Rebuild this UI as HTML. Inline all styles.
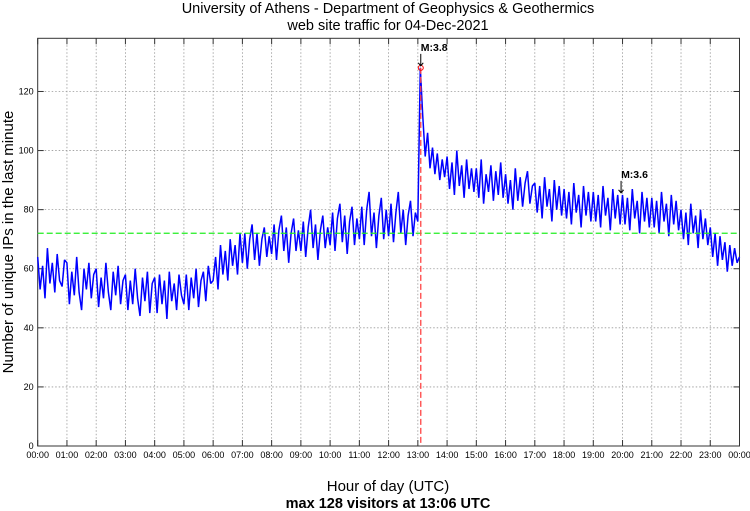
<!DOCTYPE html>
<html><head><meta charset="utf-8"><style>
body{margin:0;background:#fff;}
svg{display:block;font-family:"Liberation Sans",sans-serif;}
</style></head><body>
<svg id="chart" width="750" height="511" viewBox="0 0 750 511">
<text x="388" y="13" font-size="14.5" text-anchor="middle">University of Athens - Department of Geophysics &amp; Geothermics</text>
<text x="388" y="30" font-size="14.5" text-anchor="middle">web site traffic for 04-Dec-2021</text>
<text x="388" y="491" font-size="15" text-anchor="middle">Hour of day (UTC)</text>
<text x="388" y="508" font-size="14.5" font-weight="bold" text-anchor="middle">max 128 visitors at 13:06 UTC</text>
<text transform="translate(13,242) rotate(-90)" font-size="15" text-anchor="middle">Number of unique IPs in the last minute</text>
<g id="grid"></g><g id="series"></g><g id="overlay"></g>
</svg>
<script>
const yTicks=[0,20,40,60,80,100,120];
const xTickLabels=["00:00","01:00","02:00","03:00","04:00","05:00","06:00","07:00","08:00","09:00","10:00","11:00","12:00","13:00","14:00","15:00","16:00","17:00","18:00","19:00","20:00","21:00","22:00","23:00","00:00"];
const averageValue=72;
const peakTime=13.1, peakValue=128;
const quakes=[{label:"M:3.8",t:13.1,v:128},{label:"M:3.6",t:19.95,v:85}];
const visitors=[
64,53,61,50,67,55,62,52,65,56,54,63,
62,48,59,51,64,52,46,60,53,62,50,58,
60,47,57,50,62,52,46,59,51,61,48,56,
58,46,56,48,60,50,44,57,49,59,45,55,
57,45,58,48,56,43,59,49,55,46,58,51,
48,58,46,57,50,60,47,56,59,49,61,55,
56,64,53,68,58,66,56,70,61,68,58,72,
62,72,60,70,75,63,72,61,70,74,64,71,
65,75,63,73,78,66,74,62,72,77,66,73,
66,76,64,74,80,67,75,63,73,78,67,74,
68,79,66,77,82,69,78,65,76,81,68,77,
70,81,68,80,86,71,79,67,78,84,70,80,
71,82,69,79,86,72,80,68,78,83,71,79,
76,128,112,98,106,94,101,92,99,90,97,91,
98,87,96,85,100,88,95,84,97,87,94,86,
94,84,97,82,92,86,95,83,93,85,96,84,
92,82,90,80,94,83,91,81,89,93,82,88,
89,79,88,77,91,81,87,76,90,80,88,78,
87,77,86,75,89,79,85,74,88,78,86,76,
86,76,85,74,88,78,84,73,87,77,85,75,
85,75,84,73,87,77,83,72,86,76,84,74,
84,74,83,72,86,76,82,71,85,75,83,73,
80,70,79,68,82,72,78,67,80,70,77,68,
74,64,72,61,71,63,69,59,68,61,67,62,64];
const NS="http://www.w3.org/2000/svg";
const L=37.7,R=739.5,T=38.3,B=446,YMAX=138;
const xs=h=>L+(R-L)*h/24;
const ys=v=>B-(B-T)*v/YMAX;
function mk(tag,attrs,parent){const e=document.createElementNS(NS,tag);for(const k in attrs)e.setAttribute(k,attrs[k]);parent.appendChild(e);return e;}
const grid=document.getElementById('grid'),ser=document.getElementById('series'),ov=document.getElementById('overlay');
yTicks.forEach(v=>{
  const y=ys(v);
  if(v>0){const g=mk('line',{x1:L,x2:R,y1:y,y2:y,stroke:'#999','stroke-width':0.8,'stroke-dasharray':'1.5,2'},grid);
  
  }
  mk('line',{x1:L,x2:L+6,y1:y,y2:y,stroke:'#333'},grid);
  mk('line',{x1:R,x2:R-6,y1:y,y2:y,stroke:'#333'},grid);
  const t=mk('text',{x:L-4,y:y+3,'font-size':9,'text-anchor':'end'},grid);t.textContent=v;
  
  
});
xTickLabels.forEach((lab,i)=>{
  const x=xs(i);
  if(i>0&&i<24){const g=mk('line',{x1:x,x2:x,y1:T,y2:B,stroke:'#999','stroke-width':0.8,'stroke-dasharray':'1.5,2'},grid);
  
  }
  mk('line',{x1:x,x2:x,y1:B,y2:B-6,stroke:'#333'},grid);
  mk('line',{x1:x,x2:x,y1:T,y2:T+6,stroke:'#333'},grid);
  const t=mk('text',{x:x,y:B+12,'font-size':9,'text-anchor':'middle'},grid);t.textContent=lab;
  
  
});
const frame=mk('rect',{x:L,y:T,width:R-L,height:B-T,fill:'none',stroke:'#333','stroke-width':1},grid);


const n=visitors.length-1;
const pts=visitors.map((v,i)=>xs(i*24/n).toFixed(1)+','+ys(v).toFixed(1)).join(' ');
const line=mk('polyline',{points:pts,fill:'none',stroke:'#0000ff','stroke-width':1.5,'stroke-linejoin':'bevel'},ser);


const avg=mk('line',{x1:L,x2:R,y1:ys(averageValue),y2:ys(averageValue),stroke:'#22ee22','stroke-width':1.2,'stroke-dasharray':'6,3'},ov);


const pk=mk('line',{x1:xs(peakTime),x2:xs(peakTime),y1:ys(peakValue),y2:B,stroke:'#ff4444','stroke-width':1.3,'stroke-dasharray':'6,3'},ov);


const c=mk('circle',{cx:xs(peakTime),cy:ys(peakValue),r:2.5,fill:'none',stroke:'red','stroke-width':1},ov);


quakes.forEach(q=>{
  const x=xs(q.t),y=ys(q.v);
  const a=mk('path',{d:`M${x},${y-14}L${x},${y-2}M${x-2.5},${y-5}L${x},${y-2}L${x+2.5},${y-5}`,stroke:'#000','stroke-width':1,fill:'none'},ov);
  
  
  const t=mk('text',{x:x,y:y-17,'font-size':10.5,'font-weight':'bold'},ov);t.textContent=q.label;
  
  
});
</script>
</body></html>
